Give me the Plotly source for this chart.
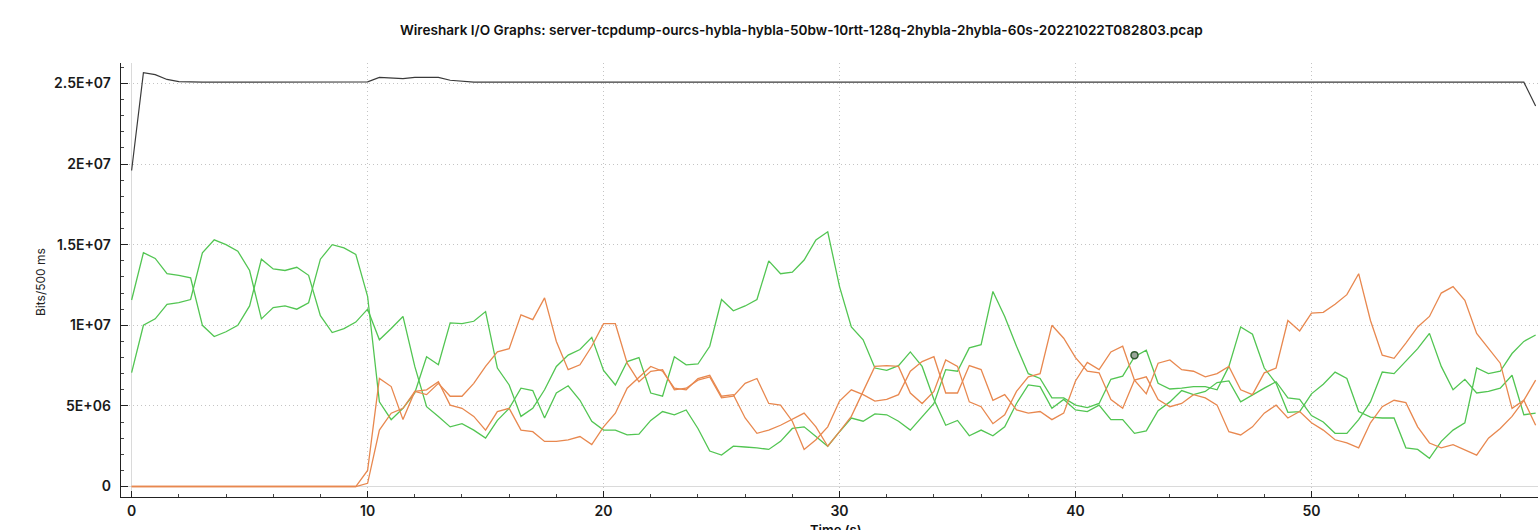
import plotly.graph_objects as go

# ---- data (values in millions of bits per 500 ms interval) ----
interval_s = 0.5
green_a = [11.57, 14.5, 14.15, 13.2, 13.1, 12.95, 10.0, 9.3, 9.6, 10.0,
           11.2, 14.1, 13.5, 13.4, 13.6, 13.1, 10.6, 9.55, 9.8, 10.2,
           11.0, 9.1, 9.8, 10.55, 7.45, 4.95, 4.35, 3.7, 3.9, 3.5,
           3.0, 4.1, 4.85, 6.1, 5.95, 4.25, 5.8, 6.25, 5.35, 4.05,
           3.5, 3.5, 3.2, 3.25, 4.1, 4.65, 4.45, 4.75, 3.6, 2.2,
           1.95, 2.5, 2.45, 2.4, 2.3, 2.8, 3.6, 3.7, 3.1, 2.5,
           3.4, 4.25, 4.05, 4.5, 4.45, 4.05, 3.5, 4.35, 5.15, 7.25,
           7.15, 8.6, 8.8, 12.1, 10.55, 8.7, 7.0, 6.7, 5.5, 5.5,
           5.05, 4.9, 5.15, 6.65, 6.85, 8.05, 8.45, 6.4, 6.05, 6.1,
           6.2, 6.2, 6.0, 7.45, 9.9, 9.45, 7.35, 6.4, 4.6, 4.65,
           5.75, 6.35, 7.1, 6.7, 4.65, 4.3, 4.25, 4.25, 2.4, 2.3,
           1.75, 2.8, 3.5, 3.95, 7.35, 7.0, 7.15, 8.25, 9.0, 9.4]
green_b = [7.07, 10.0, 10.4, 11.3, 11.4, 11.6, 14.5, 15.3, 15.0, 14.6,
           13.4, 10.4, 11.1, 11.2, 11.0, 11.4, 14.1, 15.0, 14.8, 14.4,
           11.8, 5.25, 4.15, 4.85, 5.8, 8.05, 7.55, 10.15, 10.1, 10.25,
           10.85, 7.35, 6.3, 4.35, 4.85, 6.0, 7.45, 8.15, 8.5, 9.25,
           7.2, 6.3, 7.75, 8.0, 5.8, 5.6, 8.05, 7.55, 7.6, 8.7,
           11.6, 10.9, 11.2, 11.6, 14.0, 13.2, 13.3, 14.05, 15.3, 15.8,
           12.4, 9.9, 9.1, 7.35, 7.2, 7.5, 8.35, 7.45, 5.4, 3.8,
           4.1, 3.15, 3.5, 3.15, 3.7, 5.15, 6.3, 6.2, 4.85, 5.4,
           4.75, 4.65, 5.05, 4.15, 4.15, 3.3, 3.45, 4.7, 5.25, 5.95,
           5.7, 5.9, 6.45, 6.55, 5.25, 5.7, 6.1, 6.5, 5.5, 5.4,
           4.4, 4.0, 3.3, 3.3, 4.15, 5.25, 7.1, 7.0, 7.75, 8.55,
           9.5, 7.45, 6.0, 6.65, 5.8, 5.9, 6.1, 6.9, 4.45, 4.55]
orange_a = [0, 0, 0, 0, 0, 0, 0, 0, 0, 0,
            0, 0, 0, 0, 0, 0, 0, 0, 0, 0,
            1.0, 6.7, 6.2, 4.15, 5.9, 6.0, 6.5, 5.05, 4.85, 4.35,
            3.5, 4.65, 4.85, 3.5, 3.4, 2.8, 2.8, 2.9, 3.1, 2.6,
            3.7, 4.55, 6.1, 6.8, 7.45, 7.15, 6.1, 6.0, 6.7, 6.9,
            5.6, 5.7, 4.25, 3.3, 3.5, 3.8, 4.15, 4.55, 3.7, 2.5,
            3.4, 4.35, 5.9, 7.45, 7.5, 7.45, 5.8, 5.15, 5.9, 7.85,
            7.45, 5.25, 4.95, 3.9, 4.45, 5.9, 6.8, 7.0, 10.0, 9.2,
            8.0, 7.15, 7.05, 5.4, 4.85, 6.6, 6.8, 5.4, 4.95, 5.15,
            5.7, 5.5, 5.05, 3.4, 3.2, 3.7, 4.55, 5.05, 4.25, 4.65,
            3.95, 3.5, 2.9, 2.7, 2.4, 3.95, 4.95, 5.35, 5.2, 3.7,
            2.7, 2.4, 2.6, 2.3, 1.95, 3.0, 3.6, 4.35, 5.35, 6.6]
orange_b = [0, 0, 0, 0, 0, 0, 0, 0, 0, 0,
            0, 0, 0, 0, 0, 0, 0, 0, 0, 0,
            0.2, 3.5, 4.55, 4.85, 5.9, 5.7, 6.4, 5.6, 5.6, 6.4,
            7.45, 8.35, 8.55, 10.65, 10.35, 11.7, 9.0, 7.25, 7.55, 8.7,
            10.1, 10.1, 7.65, 6.5, 7.15, 7.25, 6.0, 6.1, 6.6, 6.8,
            5.5, 5.6, 6.4, 6.7, 5.15, 5.05, 4.05, 2.3, 2.9, 3.7,
            5.3, 6.0, 5.7, 5.3, 5.4, 5.7, 7.15, 7.75, 8.05, 5.8,
            5.8, 7.5, 7.25, 5.35, 5.7, 4.75, 4.55, 4.65, 4.15, 4.55,
            6.55, 7.7, 7.25, 8.35, 8.7, 6.6, 5.75, 7.65, 7.85, 7.25,
            7.15, 6.8, 7.0, 7.45, 6.0, 5.7, 7.05, 7.35, 10.3, 9.65,
            10.75, 10.8, 11.3, 11.9, 13.2, 10.3, 8.15, 7.95, 8.9, 9.9,
            10.55, 12.0, 12.4, 11.55, 9.5, 8.55, 7.65, 4.85, 5.35, 3.8]
total = [19.6, 25.67, 25.55, 25.25, 25.12, 25.08, 25.08, 25.08, 25.08, 25.08,
         25.08, 25.08, 25.08, 25.08, 25.08, 25.08, 25.08, 25.08, 25.08, 25.08,
         25.1, 25.38, 25.35, 25.3, 25.38, 25.4, 25.38, 25.2, 25.12, 25.08,
         25.08, 25.08, 25.08, 25.08, 25.08, 25.08, 25.08, 25.08, 25.08, 25.08,
         25.08, 25.08, 25.08, 25.08, 25.08, 25.08, 25.08, 25.08, 25.08, 25.08,
         25.08, 25.08, 25.08, 25.08, 25.08, 25.08, 25.08, 25.08, 25.08, 25.08,
         25.08, 25.08, 25.08, 25.08, 25.08, 25.08, 25.08, 25.08, 25.08, 25.08,
         25.08, 25.08, 25.08, 25.08, 25.08, 25.08, 25.08, 25.08, 25.08, 25.08,
         25.08, 25.08, 25.08, 25.08, 25.08, 25.08, 25.08, 25.08, 25.08, 25.08,
         25.08, 25.08, 25.08, 25.08, 25.08, 25.08, 25.08, 25.08, 25.08, 25.08,
         25.08, 25.08, 25.08, 25.08, 25.08, 25.08, 25.08, 25.08, 25.08, 25.08,
         25.08, 25.08, 25.08, 25.08, 25.08, 25.08, 25.08, 25.08, 25.08, 23.6]
marker_point = (42.5, 8.15)

y_tick_vals = [0, 5e6, 1e7, 1.5e7, 2e7, 2.5e7]
y_tick_text = ["0", "5E+06", "1E+07", "1.5E+07", "2E+07", "2.5E+07"]
x_tick_vals = [0, 10, 20, 30, 40, 50]
x_tick_text = ["0", "10", "20", "30", "40", "50"]

title_text = ("Wireshark I/O Graphs: server-tcpdump-ourcs-hybla-hybla-50bw-10rtt-"
              "128q-2hybla-2hybla-60s-20221022T082803.pcap")

# ---- build ----
times = [i * interval_s for i in range(len(total))]
M = 1e6

GREEN = "#52c552"
ORANGE = "#e8884f"

fig = go.Figure()
for series, color in [(green_a, GREEN), (green_b, GREEN),
                      (orange_a, ORANGE), (orange_b, ORANGE)]:
    fig.add_trace(go.Scatter(x=times, y=[v * M for v in series], mode="lines",
                             line=dict(color=color, width=1.3), showlegend=False,
                             hoverinfo="skip"))
fig.add_trace(go.Scatter(x=times, y=[v * M for v in total], mode="lines",
                         line=dict(color="#3a3a3a", width=1.2), showlegend=False,
                         hoverinfo="skip"))
fig.add_trace(go.Scatter(x=[marker_point[0]], y=[marker_point[1] * M], mode="markers",
                         marker=dict(size=7, color="#9aa59a",
                                     line=dict(color="#2f5a2f", width=1.5)),
                         showlegend=False, hoverinfo="skip"))

tick_font = dict(family="Inter, Roboto, Arial", size=14, color="#1a1a1a", weight=600)
GRID_DASH = "1px,3px"

fig.update_layout(
    width=1538, height=530,
    margin=dict(l=121, r=0, t=63, b=33),
    paper_bgcolor="white", plot_bgcolor="white",
    title=dict(text=title_text, x=0.521, xanchor="center", xref="container",
               y=1 - 30 / 530, yanchor="middle", yref="container",
               font=dict(family="Inter, Roboto, Arial", size=13.6, color="#111", weight=600)),
    xaxis=dict(range=[-0.45, 59.6], tickvals=x_tick_vals, ticktext=x_tick_text,
               automargin=False,
               ticks="inside", ticklen=6, tickcolor="#222", tickwidth=1,
               minor=dict(dtick=2, ticks="inside", ticklen=3, tickcolor="#444", showgrid=False),
               showline=True, linecolor="#222", linewidth=1.3,
               showgrid=True, gridcolor="#c4c4c4", griddash=GRID_DASH, gridwidth=1,
               zeroline=True, zerolinecolor="#dadada", zerolinewidth=1.2,
               tickfont=tick_font, ticklabelstandoff=1),
    yaxis=dict(range=[-0.65e6, 26.27e6], tickvals=y_tick_vals, ticktext=y_tick_text,
               automargin=False,
               ticks="inside", ticklen=7, tickcolor="#222", tickwidth=1,
               minor=dict(dtick=1e6, ticks="inside", ticklen=3, tickcolor="#444", showgrid=False),
               showline=True, linecolor="#222", linewidth=1.3,
               showgrid=True, gridcolor="#c4c4c4", griddash=GRID_DASH, gridwidth=1,
               zeroline=True, zerolinecolor="#dadada", zerolinewidth=1.2,
               tickfont=tick_font, ticklabelstandoff=6),
    annotations=[
        dict(text="Bits/500 ms", xref="paper", yref="paper",
             x=(40 - 121) / 1417, y=(497 - 282) / 434, textangle=-90,
             showarrow=False, xanchor="center", yanchor="middle",
             font=dict(family="Inter, Roboto, Arial", size=12, color="#222")),
        dict(text="Time (s)", xref="paper", yref="paper",
             x=(836 - 121) / 1417, y=-(520 - 497) / 434,
             showarrow=False, xanchor="center", yanchor="top",
             font=dict(family="Inter, Roboto, Arial", size=13, color="#111", weight=600)),
    ],
)

fig.write_html("out.html",
               config={"displayModeBar": False, "staticPlot": True},
               post_script="document.body.style.margin='0';document.body.style.overflow='hidden';")
